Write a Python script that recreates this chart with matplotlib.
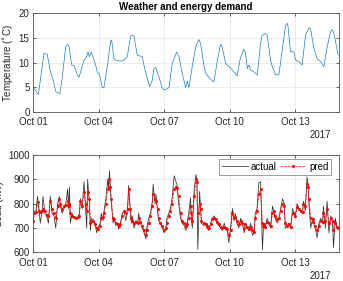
import numpy as np
import pandas as pd
import matplotlib
matplotlib.use("Agg")
import matplotlib.pyplot as plt
import matplotlib.dates as mdates

plt.rcParams['font.family'] = ['Liberation Sans', 'DejaVu Sans']
plt.rcParams['font.size'] = 7

# ---------------- data ----------------
start = pd.Timestamp('2017-10-01 00:00')

temp_hours = [0, 5.9, 12.1, 15.7, 18.7, 23.1, 24.9, 29.6, 32.2, 35.9, 37.7, 39.5, 42.4, 45.0, 48.7,
              50.5, 53.4, 56.0, 58.9, 60.4, 61.8, 64.0, 67.0, 68.8, 70.6, 73.2, 76.1, 77.9, 81.6,
              85.3, 86.4, 88.9, 90.7, 96.2, 99.9, 103.5, 107.2, 109.0, 110.9, 114.5, 118.2, 120.0,
              121.8, 125.5, 128.1, 131.0, 132.8, 134.7, 136.5, 139.4, 142.0, 143.8, 147.5, 149.3,
              152.9, 157.7, 160.3, 163.9, 167.6, 169.4, 171.2, 174.9, 178.6, 182.2, 184.0, 187.7,
              189.5, 193.2, 196.9, 198.7, 202.3, 205.3, 206.0, 207.8, 211.5, 215.1, 218.8, 222.5,
              224.3, 227.2, 229.8, 231.6, 233.4, 235.3, 237.1, 238.9, 242.6, 246.3, 249.9, 251.7,
              255.4, 257.2, 260.9, 262.7, 266.4, 270.0, 273.7, 277.4, 279.2, 279.9, 282.8, 286.5,
              288.3, 292.0, 295.6, 299.3, 303.0, 304.8, 308.5, 312.1, 315.8, 319.4, 323.1, 326.8,
              328.6, 330.4, 335.2]
temperature = [5.0, 3.5, 11.9, 11.7, 8.5, 5.8, 4.1, 3.7, 7.1, 13.2, 13.7, 13.4, 9.5, 9.4, 7.5,
               7.0, 8.8, 10.5, 11.2, 12.2, 11.2, 12.1, 10.5, 9.5, 8.1, 7.5, 4.9, 4.9, 9.2,
               14.4, 14.6, 10.8, 10.5, 10.3, 10.5, 11.2, 15.3, 15.6, 15.4, 11.5, 11.3, 11.2,
               9.5, 6.8, 5.1, 6.4, 8.8, 9.0, 8.1, 6.4, 4.7, 4.4, 4.7, 4.9,
               9.8, 12.1, 11.2, 7.8, 4.9, 6.2, 4.9, 9.2, 13.2, 14.7, 13.9, 9.5,
               7.8, 7.0, 6.3, 6.1, 10.2, 13.2, 13.7, 13.2, 9.8, 9.2, 8.5, 7.7,
               7.3, 10.5, 11.9, 12.7, 11.9, 8.8, 9.5, 8.5, 8.1, 7.5, 13.9, 15.6,
               15.9, 15.6, 10.5, 9.2, 7.5, 7.5, 12.5, 17.6, 18.0, 17.6, 12.2, 12.2,
               10.5, 10.2, 9.5, 15.6, 17.1, 16.9, 12.9, 10.8, 10.2, 9.2, 13.2, 16.3,
               16.7, 16.0, 11.5]

load_hours = [0, 1, 3, 5, 7, 8, 10, 11, 13, 15,
              17, 19, 21, 23, 25, 27, 29, 30, 32, 34,
              36, 38, 39, 40, 41, 43, 45, 47, 49, 51,
              52, 54, 56, 58, 59, 60, 62, 63, 64, 66,
              68, 70, 71, 74, 75, 77, 78, 80, 82, 83,
              84, 85, 86, 88, 89, 91, 93, 94, 96, 98,
              100, 102, 104, 105, 107, 108, 109, 111, 113, 115,
              116, 118, 120, 122, 124, 125, 127, 129, 131, 132,
              134, 135, 137, 138, 140, 142, 144, 146, 147, 149,
              151, 153, 155, 157, 158, 160, 162, 164, 166, 168,
              169, 171, 173, 174, 175, 177, 179, 180, 181, 183,
              184, 185, 188, 190, 191, 193, 195, 197, 199, 201,
              202, 204, 206, 208, 210, 212, 213, 215, 217, 219,
              221, 222, 224, 226, 228, 230, 232, 233, 235, 237,
              239, 241, 243, 244, 246, 248, 250, 252, 253, 254,
              255, 257, 259, 261, 263, 265, 266, 268, 270, 272,
              274, 276, 277, 279, 281, 283, 285, 287, 288, 290,
              292, 294, 296, 297, 299, 301, 302, 303, 305, 307,
              308, 310, 312, 314, 316, 318, 319, 321, 323, 325,
              327, 329, 330, 332, 334, 335]
load_actual = [735, 770, 760, 830, 760, 720, 770, 830, 760, 750,
               720, 830, 760, 750, 700, 800, 830, 790, 760, 780,
               800, 860, 780, 870, 720, 760, 740, 745, 740, 760,
               820, 780, 890, 760, 700, 900, 800, 690, 740, 735,
               720, 680, 700, 720, 760, 730, 770, 820, 900, 860,
               935, 860, 800, 720, 740, 710, 720, 695, 720, 760,
               770, 730, 790, 875, 760, 720, 750, 700, 730, 720,
               760, 720, 700, 680, 655, 700, 740, 760, 810, 880,
               800, 840, 760, 730, 720, 700, 680, 700, 740, 760,
               780, 830, 915, 890, 880, 800, 740, 720, 710, 690,
               720, 760, 825, 730, 700, 860, 920, 900, 612, 850,
               780, 720, 710, 720, 700, 690, 720, 740, 750, 730,
               720, 710, 700, 690, 720, 690, 700, 640, 700, 780,
               730, 760, 720, 700, 740, 720, 680, 720, 700, 690,
               720, 670, 680, 760, 780, 885, 890, 610, 700, 720,
               700, 740, 720, 700, 790, 760, 740, 720, 740, 780,
               820, 800, 700, 710, 720, 700, 780, 760, 740, 800,
               780, 770, 760, 810, 770, 910, 880, 800, 700, 740,
               720, 700, 660, 720, 740, 720, 790, 700, 810, 680,
               750, 720, 620, 740, 700, 700]
load_pred = [730, 760, 765, 805, 770, 765, 770, 780, 770, 755,
             750, 810, 780, 760, 740, 790, 820, 800, 780, 790,
             795, 810, 790, 800, 760, 750, 745, 740, 745, 750,
             810, 790, 850, 800, 770, 850, 820, 720, 730, 730,
             715, 700, 695, 710, 740, 745, 760, 800, 860, 870,
             900, 870, 820, 740, 735, 720, 715, 710, 715, 750,
             770, 760, 780, 860, 780, 740, 730, 720, 725, 720,
             740, 725, 710, 690, 670, 690, 720, 750, 790, 840,
             820, 810, 780, 740, 720, 710, 690, 700, 720, 750,
             770, 800, 860, 870, 865, 830, 760, 730, 720, 710,
             715, 740, 790, 760, 730, 830, 900, 890, 760, 800,
             780, 730, 720, 715, 710, 700, 715, 735, 740, 735,
             725, 715, 705, 700, 705, 700, 695, 670, 690, 760,
             740, 745, 730, 715, 730, 720, 700, 715, 705, 695,
             705, 690, 685, 740, 770, 840, 860, 720, 710, 715,
             705, 725, 720, 710, 760, 770, 750, 735, 740, 770,
             800, 790, 720, 710, 715, 705, 760, 760, 750, 785,
             780, 770, 765, 800, 790, 880, 870, 820, 740, 735,
             725, 710, 690, 710, 730, 725, 760, 730, 780, 720,
             740, 730, 690, 720, 705, 700]

temp_ticks = [0, 5, 10, 15, 20]
load_ticks = [600, 700, 800, 900, 1000]
legend_labels = ['actual', 'pred']

t_temp = start + pd.to_timedelta(temp_hours, unit='h')
t_load = start + pd.to_timedelta(load_hours, unit='h')
xmin = start
xmax = start + pd.Timedelta(days=14)

# ---------------- figure ----------------
fig = plt.figure(figsize=(3.43, 2.81), dpi=100)
ax1 = fig.add_axes([0.0962, 0.6025, 0.892, 0.3495])
ax2 = fig.add_axes([0.0962, 0.1021, 0.892, 0.346])

axis_col = '#262626'
for ax in (ax1, ax2):
    ax.set_xlim(xmin, xmax)
    ax.xaxis.set_major_locator(mdates.DayLocator(bymonthday=[1, 4, 7, 10, 13]))
    ax.xaxis.set_major_formatter(mdates.DateFormatter('%b %d'))
    ax.grid(True, color='#e3e3e3', linewidth=0.5)
    ax.set_axisbelow(True)
    ax.tick_params(direction='in', length=2.5, width=0.5, top=True, right=True,
                   labelsize=7, colors=axis_col)
    ax.tick_params(axis='x', pad=4)
    ax.tick_params(axis='y', pad=2.5)
    for s in ax.spines.values():
        s.set_color('#555555')
        s.set_linewidth(0.6)
    ax.text(0.975, -0.19, '2017', transform=ax.transAxes, ha='right', va='top',
            fontsize=7, color=axis_col)

ax1.plot(t_temp, temperature, color='#0072BD', linewidth=0.45)
ax1.set_ylim(0, 20)
ax1.set_yticks(temp_ticks)
ax1.set_ylabel('Temperature ($^{\\circ}$C)', fontsize=7, color=axis_col, labelpad=3)
ax1.set_title('Weather and energy demand', fontsize=7, fontweight='bold', pad=2.5)

ax2.plot(t_load, load_actual, color='#333333', linewidth=0.55, label=legend_labels[0])
ax2.plot(t_load, load_pred, color='red', linewidth=0.5, linestyle='--', marker='.',
         markersize=2.3, label=legend_labels[1])
ax2.set_ylim(600, 1000)
ax2.set_yticks(load_ticks)
ax2.set_ylabel('Load (kW)', fontsize=7, color=axis_col, labelpad=3)
leg = ax2.legend(loc='upper right', bbox_to_anchor=(0.975, 0.96), ncol=2, fontsize=7,
                 frameon=True, fancybox=False, edgecolor='#555555', handlelength=2.6,
                 handletextpad=0.35, columnspacing=0.35, borderpad=0.3, borderaxespad=0)
leg.get_frame().set_linewidth(0.5)

fig.savefig('out.png', dpi=100)
